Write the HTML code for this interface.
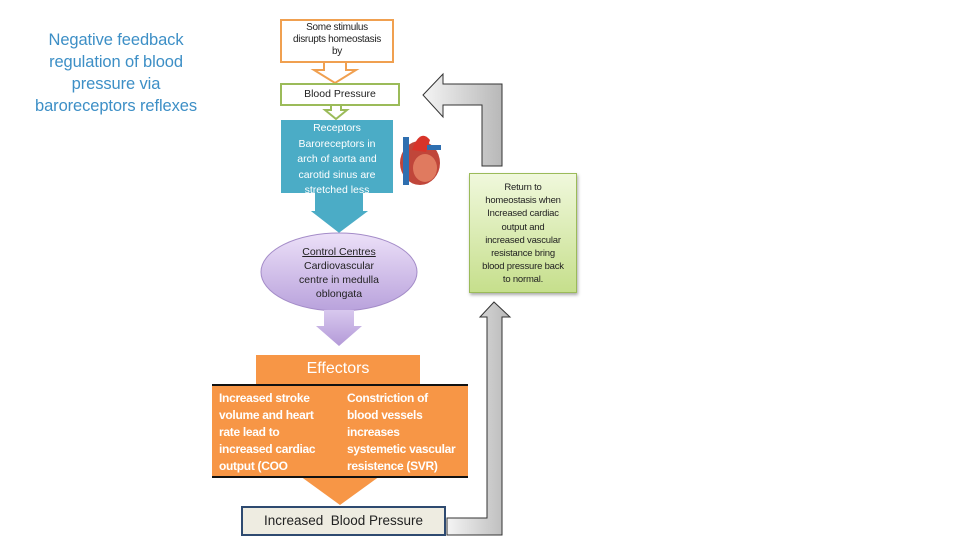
<!DOCTYPE html>
<html><head><meta charset="utf-8"><style>
body{margin:0;width:960px;height:540px;background:#fff;position:relative;overflow:hidden;font-family:"Liberation Sans",sans-serif}
.a{position:absolute;box-sizing:border-box;text-align:center;white-space:nowrap}
</style></head><body>
<div class="a" style="left:16px;top:29px;width:200px;color:#3d8fc6;font-size:16.5px;line-height:22px;letter-spacing:-0.1px">Negative feedback<br>regulation of blood<br>pressure via<br>baroreceptors reflexes</div>

<svg width="960" height="540" style="position:absolute;left:0;top:0">
<defs>
<linearGradient id="g" x1="0" x2="1"><stop offset="0" stop-color="#f4f4f4"/><stop offset="1" stop-color="#b8b8b8"/></linearGradient>
<linearGradient id="p" x1="0" y1="0" x2="0" y2="1"><stop offset="0" stop-color="#ece0f8"/><stop offset="1" stop-color="#b9a2dc"/></linearGradient>
<linearGradient id="pa" x1="0" y1="0" x2="0" y2="1"><stop offset="0" stop-color="#d8c8ee"/><stop offset="1" stop-color="#b49ad8"/></linearGradient>
</defs>
<polygon points="324,62 346,62 346,70 356,70 335,83 314,70 324,70" fill="#fff" stroke="#f0a050" stroke-width="2"/>
<polygon points="331,105 341,105 341,110 347,110 336,119 325,110 331,110" fill="#fff" stroke="#9bbb59" stroke-width="2"/>
<polygon points="314,192 364,192 364,210 371,210 339,234 308,210 314,210" fill="#4bacc6" stroke="#fff" stroke-width="2"/>
<ellipse cx="339" cy="272" rx="78" ry="39" fill="url(#p)" stroke="#a48cc8" stroke-width="1"/>
<polygon points="324,310 354,310 354,326 362,326 339,346 316,326 324,326" fill="url(#pa)"/>
<polygon points="300,476 380,476 340,505" fill="#f79646"/>
<polygon points="423,95 443,74 443,84 502,84 502,166 482,166 482,105 443,105 443,117" fill="url(#g)" stroke="#333" stroke-width="1"/>
<polygon points="494,302 510,317 502,317 502,535 447,535 447,518 487,518 487,317 480,317" fill="url(#g)" stroke="#333" stroke-width="1"/>
<g>
<ellipse cx="420" cy="163" rx="20" ry="22" fill="#c0463a"/>
<ellipse cx="425" cy="168" rx="12" ry="14" fill="#e07a5f"/>
<rect x="403" y="137" width="6" height="48" fill="#2f6fb0"/>
<path d="M412 150 Q420 128 430 140 L426 152 Z" fill="#d8342a"/>
<rect x="427" y="145" width="14" height="5" fill="#2f6fb0"/>
</g>
</svg>

<div class="a" style="left:280px;top:19px;width:114px;height:44px;border:2px solid #f0a050;background:#fff;font-size:10px;line-height:12px;padding-top:1px;color:#222;letter-spacing:-0.3px">Some stimulus<br>disrupts homeostasis<br>by</div>
<div class="a" style="left:280px;top:83px;width:120px;height:23px;border:2px solid #9bbb59;background:#fff;font-size:10.5px;line-height:19px;color:#222">Blood Pressure</div>
<div class="a" style="left:281px;top:120px;width:112px;height:73px;background:#4bacc6;color:#fff;font-size:10.5px;line-height:15.5px;overflow:hidden;padding-top:1px">Receptors<br>Baroreceptors in<br>arch of aorta and<br>carotid sinus are<br>stretched less</div>
<div class="a" style="left:276px;top:245px;width:126px;font-size:10.5px;line-height:14px;color:#222"><u>Control Centres</u><br>Cardiovascular<br>centre in medulla<br>oblongata</div>
<div class="a" style="left:469px;top:173px;width:108px;height:120px;border:1px solid #9bbb59;background:linear-gradient(#f0f8dc,#c6df8c);font-size:9.5px;line-height:13.2px;padding-top:7px;color:#222;box-shadow:1px 2px 3px #aaa;letter-spacing:-0.2px">Return to<br>homeostasis when<br>Increased cardiac<br>output and<br>increased vascular<br>resistance bring<br>blood pressure back<br>to normal.</div>
<div class="a" style="left:256px;top:355px;width:164px;height:30px;background:#f79646;color:#fff;font-size:16px;line-height:28px">Effectors</div>
<div class="a" style="left:212px;top:384px;width:256px;height:94px;background:#f79646;border-top:2px solid #111;border-bottom:2px solid #111;color:#fff;font-weight:bold;font-size:12px;line-height:17px;text-align:left;letter-spacing:-0.3px">
<div style="position:absolute;left:7px;top:4px;width:124px">Increased stroke<br>volume and heart<br>rate lead to<br>increased cardiac<br>output (COO</div>
<div style="position:absolute;left:135px;top:4px;width:120px">Constriction of<br>blood vessels<br>increases<br>systemetic vascular<br>resistence (SVR)</div>
</div>
<div class="a" style="left:241px;top:506px;width:205px;height:30px;background:#eeece1;border:2px solid #2e4a70;font-size:13.5px;line-height:26px;color:#222">Increased&nbsp; Blood Pressure</div>
</body></html>
